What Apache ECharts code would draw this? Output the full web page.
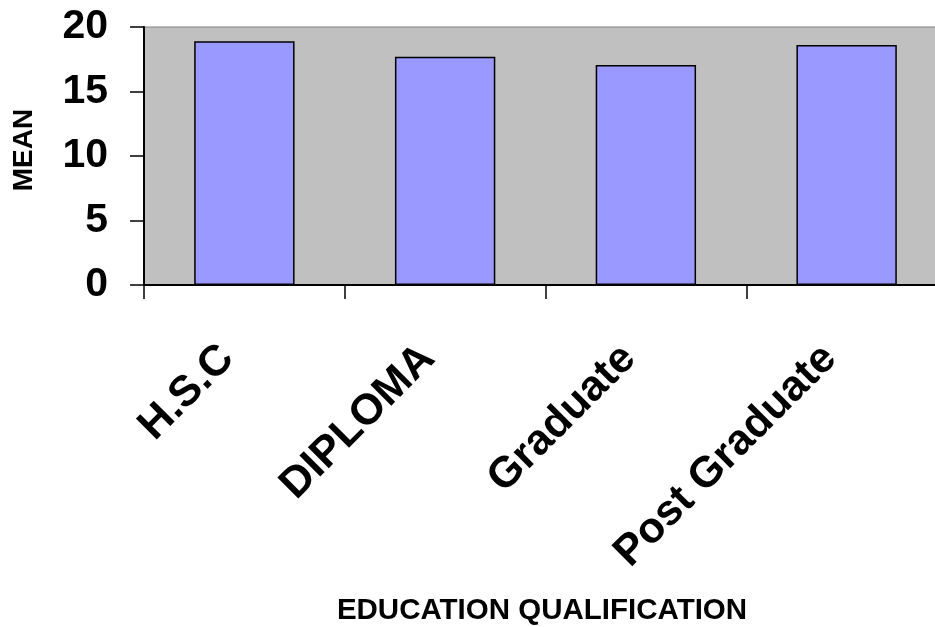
<!DOCTYPE html>
<html>
<head>
<meta charset="utf-8">
<script src="https://cdn.jsdelivr.net/npm/echarts@6/dist/echarts.min.js"></script>
<style>
html,body{margin:0;padding:0;background:#fff;}
#chart{width:935px;height:627px;}
</style>
</head>
<body>
<div id="chart"></div>
<script>
const categories = ["H.S.C", "DIPLOMA", "Graduate", "Post Graduate"];
const meanValues = [18.9, 17.7, 17.05, 18.6];
const yTicks = [0, 5, 10, 15, 20];
const yAxisTitle = "MEAN";
const xAxisTitle = "EDUCATION QUALIFICATION";

const FONT = '"Liberation Sans", Arial, sans-serif';
const chart = echarts.init(document.getElementById('chart'), null, {renderer: 'canvas'});
chart.setOption({
  animation: false,
  backgroundColor: '#ffffff',
  grid: {
    left: 144, top: 27, width: 803, height: 258,
    outerBoundsMode: 'none', containLabel: false,
    show: true, backgroundColor: '#c0c0c0', borderColor: '#808080', borderWidth: 1
  },
  xAxis: {
    type: 'category',
    data: categories,
    boundaryGap: true,
    axisLine: {show: true, lineStyle: {color: '#000', width: 2}},
    axisTick: {show: true, length: 14, lineStyle: {color: '#000', width: 1.5}},
    axisLabel: {
      rotate: 45, margin: 50, interval: 0, padding: [0, 24, 0, 0],
      fontFamily: FONT, fontWeight: 'bold', fontSize: 43, color: '#000'
    },
    splitLine: {show: false}
  },
  yAxis: {
    type: 'value',
    min: yTicks[0], max: yTicks[yTicks.length - 1], interval: 5,
    axisLine: {show: true, lineStyle: {color: '#000', width: 2}},
    axisTick: {show: true, length: 14, lineStyle: {color: '#000', width: 1.5}},
    axisLabel: {
      margin: 36,
      fontFamily: FONT, fontWeight: 'bold', fontSize: 41, color: '#000'
    },
    splitLine: {show: false}
  },
  graphic: [
    {
      type: 'text', x: 24, y: 150, rotation: Math.PI / 2,
      style: {text: yAxisTitle, font: 'bold 28px ' + FONT, fill: '#000', align: 'center', verticalAlign: 'middle'}
    },
    {
      type: 'text', x: 542, y: 611,
      style: {text: xAxisTitle, font: 'bold 29.5px ' + FONT, fill: '#000', align: 'center', verticalAlign: 'middle'}
    }
  ],
  series: [{
    type: 'bar',
    data: meanValues,
    barWidth: '50%',
    itemStyle: {color: '#9999ff', borderColor: '#000', borderWidth: 1.5}
  }]
});
</script>
</body>
</html>
